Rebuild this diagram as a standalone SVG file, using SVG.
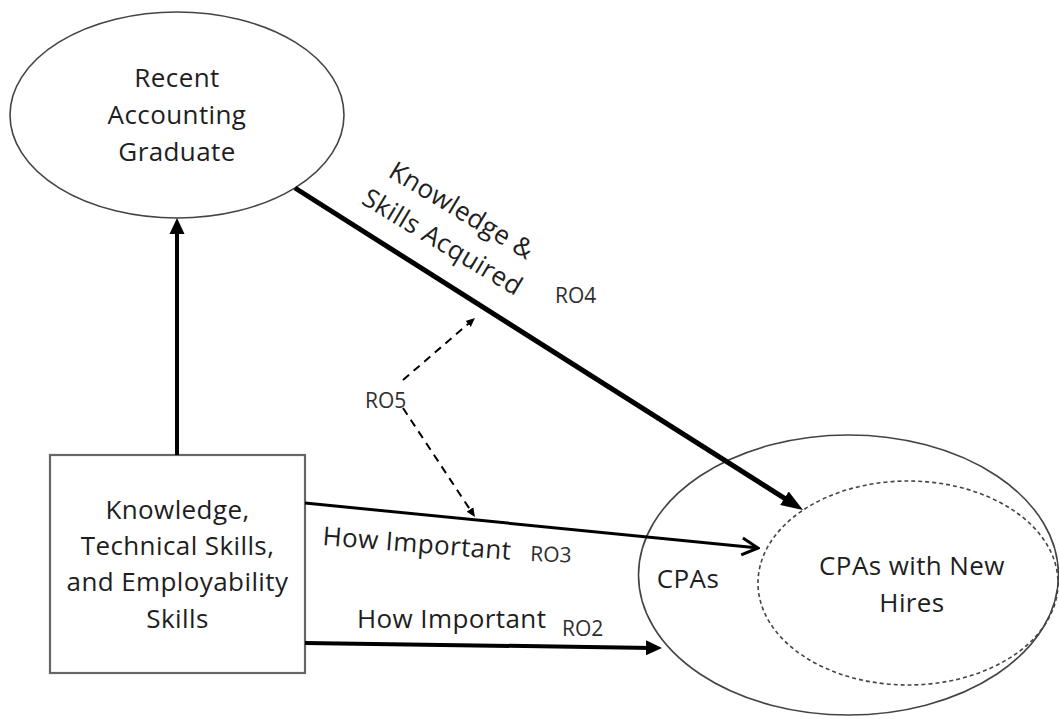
<svg xmlns="http://www.w3.org/2000/svg" width="1059" height="719" viewBox="0 0 1059 719">
<style>
.node{fill:#fff;stroke:#444;stroke-width:1.6}
.box{fill:#fff;stroke:#666;stroke-width:2.2}
.dash-ell{fill:none;stroke:#444;stroke-width:1.6;stroke-dasharray:4 3}
.t{font-family:"Open Sans","Noto Sans","Liberation Sans",sans-serif;font-size:26px;letter-spacing:0.4px;fill:#1e1e1e}
.ro{font-family:"Open Sans","Noto Sans","Liberation Sans",sans-serif;font-size:21px;fill:#2e2e2e}
.c{stroke:#000;fill:none}
.mid{text-anchor:middle}
</style>
<defs>
<marker id="ahBig" markerUnits="userSpaceOnUse" markerWidth="24" markerHeight="18" viewBox="0 -9 24 18" refX="10" refY="0" orient="auto"><path d="M0,-8 L22,0 L0,8 z" fill="#000"/></marker>
<marker id="ahMed" markerUnits="userSpaceOnUse" markerWidth="18" markerHeight="16" viewBox="0 -8 18 16" refX="6" refY="0" orient="auto"><path d="M0,-7.5 L16,0 L0,7.5 z" fill="#000"/></marker>
<marker id="ahOpen" markerUnits="userSpaceOnUse" markerWidth="20" markerHeight="22" viewBox="-2 -11 20 22" refX="14" refY="0" orient="auto"><path d="M0,-8.5 L16,0 L0,8.5" fill="none" stroke="#000" stroke-width="3"/></marker>
<marker id="ahSmall" markerUnits="userSpaceOnUse" markerWidth="11" markerHeight="10" viewBox="0 -5 11 10" refX="6" refY="0" orient="auto"><path d="M0,-4 L9,0 L0,4 z" fill="#000"/></marker>
</defs>

<g id="node-graduate">
<ellipse class="node" cx="177" cy="115" rx="167" ry="103"/>
<text class="t mid" x="177" y="87">Recent</text>
<text class="t mid" x="177" y="124">Accounting</text>
<text class="t mid" x="177" y="161">Graduate</text>
</g>

<g id="node-cpas">
<ellipse class="node" cx="848.5" cy="575" rx="210" ry="140"/>
<text class="t mid" x="688" y="588">CPAs</text>
</g>

<g id="node-cpas-new-hires">
<ellipse class="dash-ell" cx="908" cy="583" rx="150" ry="102"/>
<text class="t mid" x="912" y="575">CPAs with New</text>
<text class="t mid" x="912" y="612">Hires</text>
</g>

<g id="node-skills">
<rect class="box" x="50" y="455" width="255" height="218"/>
<text class="t mid" x="177.5" y="519">Knowledge,</text>
<text class="t mid" x="177.5" y="555">Technical Skills,</text>
<text class="t mid" x="177.5" y="591">and Employability</text>
<text class="t mid" x="177.5" y="628">Skills</text>
</g>

<g id="connectors">
<line class="c" x1="177" y1="455" x2="177" y2="228" stroke-width="4" marker-end="url(#ahMed)"/>
<line class="c" x1="295" y1="188" x2="792.9" y2="503.6" stroke-width="5" marker-end="url(#ahBig)"/>
<line class="c" x1="305" y1="503" x2="756" y2="547.8" stroke-width="3" marker-end="url(#ahOpen)"/>
<line class="c" x1="305" y1="643" x2="652" y2="647.9" stroke-width="4" marker-end="url(#ahMed)"/>
<line class="c" x1="403" y1="380" x2="472.7" y2="320" stroke-width="2" stroke-dasharray="8 6" marker-end="url(#ahSmall)"/>
<line class="c" x1="403" y1="408" x2="473.3" y2="514.5" stroke-width="2" stroke-dasharray="8 6" marker-end="url(#ahSmall)"/>
</g>

<g id="labels">
<g transform="translate(457,218) rotate(31)">
<text class="t mid" x="0" y="0">Knowledge &amp;</text>
<text class="t mid" x="0" y="37">Skills Acquired</text>
</g>
<text class="ro" x="555" y="303">RO4</text>
<text class="ro" x="365" y="408">RO5</text>
<text class="t" x="322" y="545" transform="rotate(4.5 322 545)">How Important</text>
<text class="ro" x="530" y="561" transform="rotate(2 530 561)">RO3</text>
<text class="t" x="357" y="628">How Important</text>
<text class="ro" x="562" y="636">RO2</text>
</g>
</svg>
